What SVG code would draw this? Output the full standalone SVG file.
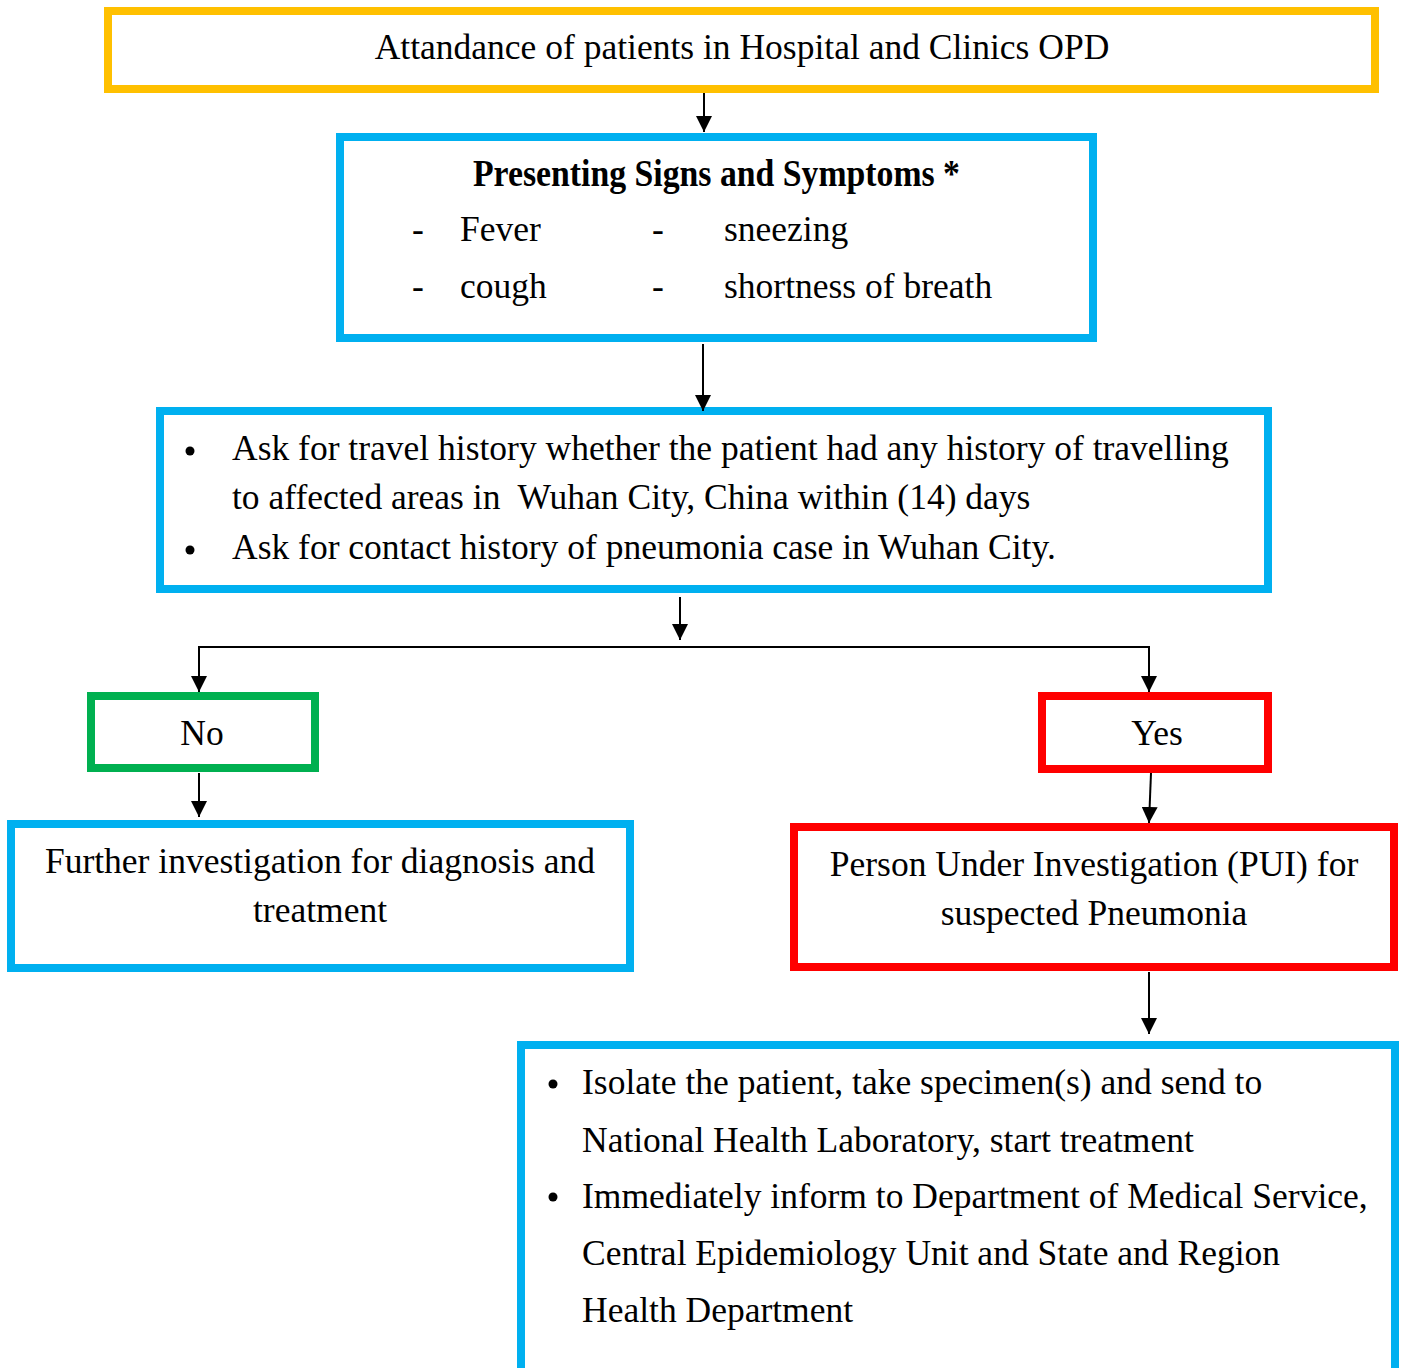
<svg xmlns="http://www.w3.org/2000/svg" width="1403" height="1368" viewBox="0 0 1403 1368">
<defs>
<marker id="arr" viewBox="0 0 16 16" refX="16" refY="8" markerWidth="16" markerHeight="16" markerUnits="userSpaceOnUse" orient="auto">
<path d="M0,0 L16,8 L0,16 Z" fill="#000"/>
</marker>
<style>
.box{fill:#fff;stroke-width:8}
.orange{stroke:#FFC000}
.blue{stroke:#00B0F0}
.green{stroke:#00B050}
.red{stroke:#FF0000}
text{font-family:"Liberation Serif","Times New Roman",serif;font-size:35.5px;fill:#000}
.c{text-anchor:middle}
.b{font-weight:bold}
.conn{fill:none;stroke:#000;stroke-width:2}
</style>
</defs>
<rect width="1403" height="1368" fill="#fff"/>

<g id="n-attendance">
<rect class="box orange" x="108" y="11" width="1267" height="78"/>
<text class="c" x="742" y="59">Attandance of patients in Hospital and Clinics OPD</text>
</g>

<g id="n-symptoms">
<rect class="box blue" x="340" y="137" width="753" height="201"/>
<text class="c b" x="716.5" y="186" textLength="487" lengthAdjust="spacingAndGlyphs" style="font-size:37px">Presenting Signs and Symptoms *</text>
<text x="412" y="241">-</text>
<text x="460" y="241">Fever</text>
<text x="652" y="241">-</text>
<text x="724" y="241">sneezing</text>
<text x="412" y="298">-</text>
<text x="460" y="298">cough</text>
<text x="652" y="298">-</text>
<text x="724" y="298">shortness of breath</text>
</g>

<g id="n-history">
<rect class="box blue" x="160" y="411" width="1108" height="178"/>
<circle cx="190" cy="451" r="4.5" fill="#000"/>
<circle cx="190" cy="550" r="4.5" fill="#000"/>
<text x="232" y="460">Ask for travel history whether the patient had any history of travelling</text>
<text x="232" y="509" xml:space="preserve">to affected areas in  Wuhan City, China within (14) days</text>
<text x="232" y="559">Ask for contact history of pneumonia case in Wuhan City.</text>
</g>

<g id="n-no">
<rect class="box green" x="91" y="696" width="224" height="72"/>
<text class="c" x="202" y="745">No</text>
</g>

<g id="n-yes">
<rect class="box red" x="1042" y="696" width="226" height="73"/>
<text class="c" x="1157" y="745">Yes</text>
</g>

<g id="n-further">
<rect class="box blue" x="11" y="824" width="619" height="144"/>
<text class="c" x="320" y="873">Further investigation for diagnosis and</text>
<text class="c" x="320" y="922">treatment</text>
</g>

<g id="n-pui">
<rect class="box red" x="794" y="827" width="600" height="140"/>
<text class="c" x="1094" y="876">Person Under Investigation (PUI) for</text>
<text class="c" x="1094" y="925">suspected Pneumonia</text>
</g>

<g id="n-actions">
<rect class="box blue" x="521" y="1045" width="874" height="340"/>
<circle cx="553" cy="1084" r="4.5" fill="#000"/>
<circle cx="553" cy="1197" r="4.5" fill="#000"/>
<text x="582" y="1094">Isolate the patient, take specimen(s) and send to</text>
<text x="582" y="1152">National Health Laboratory, start treatment</text>
<text x="582" y="1208">Immediately inform to Department of Medical Service,</text>
<text x="582" y="1265">Central Epidemiology Unit and State and Region</text>
<text x="582" y="1322">Health Department</text>
</g>

<g id="connectors">
<path class="conn" d="M704,93 L704,132" marker-end="url(#arr)"/>
<path class="conn" d="M703,344 L703,411" marker-end="url(#arr)"/>
<path class="conn" d="M680,597 L680,640" marker-end="url(#arr)"/>
<path class="conn" d="M199,647 L1149,647"/>
<path class="conn" d="M199,646 L199,692" marker-end="url(#arr)"/>
<path class="conn" d="M1149,646 L1149,692" marker-end="url(#arr)"/>
<path class="conn" d="M199,773 L199,817" marker-end="url(#arr)"/>
<path class="conn" d="M1151,773 L1149,823" marker-end="url(#arr)"/>
<path class="conn" d="M1149,972 L1149,1034" marker-end="url(#arr)"/>
</g>
</svg>
